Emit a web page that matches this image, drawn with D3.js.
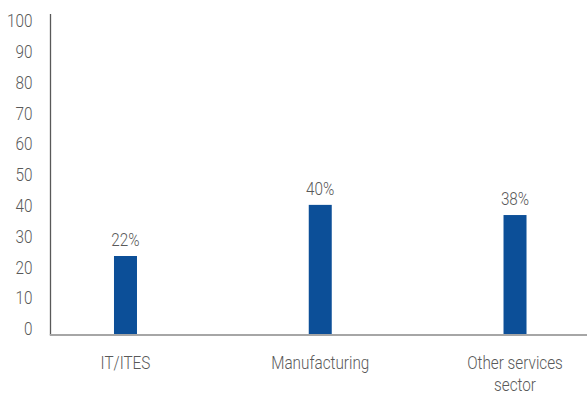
<!DOCTYPE html>
<html>
<head>
<meta charset="utf-8">
<script src="https://cdn.jsdelivr.net/npm/d3@7"></script>
<style>
  body { margin: 0; background: #fff; }
  text { font-family: Roboto, "Liberation Sans", sans-serif; font-weight: 300; fill: #595959; }
</style>
</head>
<body>
<div id="canvas"></div>
<script>
const categories = ["IT/ITES", "Manufacturing", "Other services sector"];
const values = [23.7, 40.3, 37];
const valueLabels = ["22%", "40%", "38%"];
const yTicks = [0, 10, 20, 30, 40, 50, 60, 70, 80, 90, 100];

const width = 587;
const height = 394;
const axisX = 50.5;
const baseY = 335;
const squeeze = 0.85; // fake a condensed face

const svg = d3.select("#canvas").append("svg")
  .attr("width", width)
  .attr("height", height);

const y = d3.scaleLinear().domain([0, 100]).range([329, 21]);

const x = d3.scalePoint()
  .domain(categories)
  .range([axisX, 590])
  .padding(0.385);

const barW = 23;

function condense(sel) {
  sel.each(function () {
    const t = d3.select(this);
    t.attr("x", +t.attr("x") / squeeze).attr("transform", `scale(${squeeze},1)`);
    t.selectAll("tspan").attr("x", function () { return +d3.select(this).attr("x") / squeeze; });
  });
}

// y tick labels
const yAxis = svg.append("g")
  .attr("transform", `translate(${axisX},0)`)
  .call(d3.axisLeft(y).tickValues(yTicks).tickSize(0).tickPadding(18));
yAxis.select(".domain").remove();
yAxis.selectAll("text")
  .attr("font-size", 18)
  .attr("font-family", null)
  .attr("fill", "#595959")
  .call(condense);

// left axis line
svg.append("line")
  .attr("x1", axisX).attr("x2", axisX)
  .attr("y1", 14).attr("y2", baseY)
  .attr("stroke", "#595959")
  .attr("stroke-width", 1.3);

// bars
svg.selectAll("rect.bar")
  .data(values)
  .enter()
  .append("rect")
  .attr("class", "bar")
  .attr("x", (d, i) => x(categories[i]) - barW / 2)
  .attr("y", (d) => y(d))
  .attr("width", barW)
  .attr("height", (d) => baseY - y(d))
  .attr("fill", "#0c4f98");

// bottom axis
svg.append("line")
  .attr("x1", axisX - 0.7).attr("x2", width)
  .attr("y1", baseY).attr("y2", baseY)
  .attr("stroke", "#a6a6a6")
  .attr("stroke-width", 2);

// value labels
svg.selectAll("text.val")
  .data(values)
  .enter()
  .append("text")
  .attr("class", "val")
  .attr("x", (d, i) => x(categories[i]))
  .attr("y", (d) => y(d) - 10)
  .attr("text-anchor", "middle")
  .attr("font-size", 18)
  .text((d, i) => valueLabels[i])
  .call(condense);

// category labels (wrap "Other services sector")
const catLines = [["IT/ITES"], ["Manufacturing"], ["Other services", "sector"]];
categories.forEach((c, i) => {
  const t = svg.append("text")
    .attr("x", x(c))
    .attr("y", 369)
    .attr("text-anchor", "middle")
    .attr("font-size", 18);
  catLines[i].forEach((line, j) => {
    t.append("tspan")
      .attr("x", x(c))
      .attr("dy", j === 0 ? 0 : 22)
      .text(line);
  });
  t.call(condense);
});
</script>
</body>
</html>
